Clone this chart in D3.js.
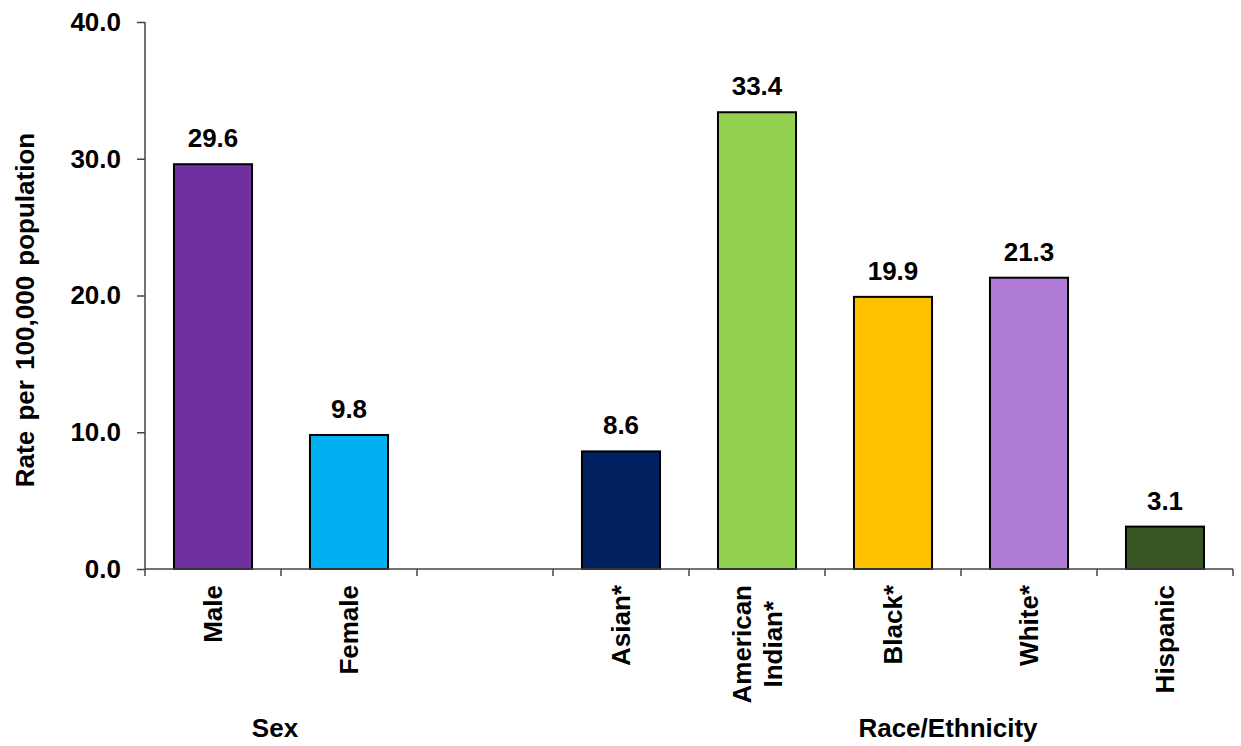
<!DOCTYPE html>
<html>
<head>
<meta charset="utf-8">
<script src="https://cdn.jsdelivr.net/npm/d3@7/dist/d3.min.js"></script>
<style>
  html, body { margin: 0; padding: 0; background: #fff; }
  svg { display: block; font-family: Arial, "Liberation Sans", sans-serif; font-weight: bold; }
</style>
</head>
<body>
<svg id="chart" width="1241" height="746"></svg>
<script>
// Categories along the x axis (an empty slot separates the two groups)
const categories = ["Male", "Female", "", "Asian*", "American Indian*", "Black*", "White*", "Hispanic"];
const labelLines = [["Male"], ["Female"], [], ["Asian*"], ["American", "Indian*"], ["Black*"], ["White*"], ["Hispanic"]];
const values = [29.6, 9.8, null, 8.6, 33.4, 19.9, 21.3, 3.1];
const colors = ["#7030A0", "#00B0F0", null, "#002060", "#92D050", "#FFC000", "#AF7BD6", "#375623"];
const yTicks = [0, 10, 20, 30, 40];
const groups = [{ name: "Sex", x: 275 }, { name: "Race/Ethnicity", x: 948 }];
const yTitle = "Rate per 100,000 population";

const svg = d3.select("#chart");
const plotLeft = 145, plotRight = 1233, plotTop = 22, plotBottom = 569;
const fs = 26;

const x = d3.scaleBand().domain(d3.range(categories.length)).range([plotLeft, plotRight])
  .paddingInner(0.426).paddingOuter(0.213);
const y = d3.scaleLinear().domain([0, 40]).range([plotBottom, plotTop]);

const axisColor = "#444";

// Bars
const data = categories.map((c, i) => ({ c, i, v: values[i], col: colors[i] })).filter(d => d.v != null);
svg.append("g").selectAll("rect").data(data).join("rect")
  .attr("x", d => x(d.i))
  .attr("y", d => y(d.v))
  .attr("width", x.bandwidth())
  .attr("height", d => y(0) - y(d.v))
  .attr("fill", d => d.col)
  .attr("stroke", "#000")
  .attr("stroke-width", 2);

// Value labels
svg.append("g").selectAll("text").data(data).join("text")
  .attr("x", d => x(d.i) + x.bandwidth() / 2)
  .attr("y", d => y(d.v) - 17)
  .attr("text-anchor", "middle")
  .attr("font-size", fs)
  .attr("fill", "#000")
  .text(d => d.v.toFixed(1));

// Y axis
const yAxis = svg.append("g").attr("transform", `translate(${plotLeft},0)`)
  .call(d3.axisLeft(y).tickValues(yTicks).tickSize(8).tickPadding(16).tickFormat(d3.format(".1f")));
yAxis.select(".domain").attr("stroke", axisColor).attr("stroke-width", 1.5).attr("d", `M0,${plotTop}V${plotBottom}`);
yAxis.selectAll(".tick line").attr("stroke", axisColor).attr("stroke-width", 1.5);
yAxis.selectAll(".tick text").attr("font-size", fs).attr("font-family", "Arial, 'Liberation Sans', sans-serif")
  .attr("font-weight", "bold").attr("fill", "#000");

// X axis line and slot-boundary ticks
const step = x.step();
const xg = svg.append("g");
xg.append("line").attr("x1", plotLeft).attr("x2", plotRight).attr("y1", plotBottom).attr("y2", plotBottom)
  .attr("stroke", axisColor).attr("stroke-width", 1.5);
xg.selectAll("line.tk").data(d3.range(categories.length + 1)).join("line").attr("class", "tk")
  .attr("x1", i => plotLeft + i * step).attr("x2", i => plotLeft + i * step)
  .attr("y1", plotBottom).attr("y2", plotBottom + 7)
  .attr("stroke", axisColor).attr("stroke-width", 1.5);

// Rotated category labels: lines centred on each other, block anchored just below the axis
const lh = 31;
labelLines.forEach((lines, i) => {
  if (!lines.length) return;
  const cx = x(i) + x.bandwidth() / 2;
  const n = lines.length;
  const g = svg.append("g");
  const texts = lines.map(t => g.append("text")
    .attr("font-size", fs)
    .attr("text-anchor", "middle")
    .attr("fill", "#000")
    .text(t));
  const maxW = d3.max(texts, t => t.node().getComputedTextLength());
  const blockTop = 585;
  texts.forEach((t, k) => {
    const lx = cx + (k - (n - 1) / 2) * lh;
    const ly = blockTop + maxW / 2;
    t.attr("transform", `translate(${lx},${ly}) rotate(-90)`).attr("dy", "0.35em");
  });
});

// Group titles
svg.append("g").selectAll("text").data(groups).join("text")
  .attr("x", d => d.x).attr("y", 737)
  .attr("text-anchor", "middle").attr("font-size", fs).attr("fill", "#000")
  .text(d => d.name);

// Y axis title
svg.append("text")
  .attr("transform", "translate(34,310) rotate(-90)")
  .attr("text-anchor", "middle").attr("font-size", fs).attr("fill", "#000")
  .attr("word-spacing", 3)
  .text(yTitle);
</script>
</body>
</html>
